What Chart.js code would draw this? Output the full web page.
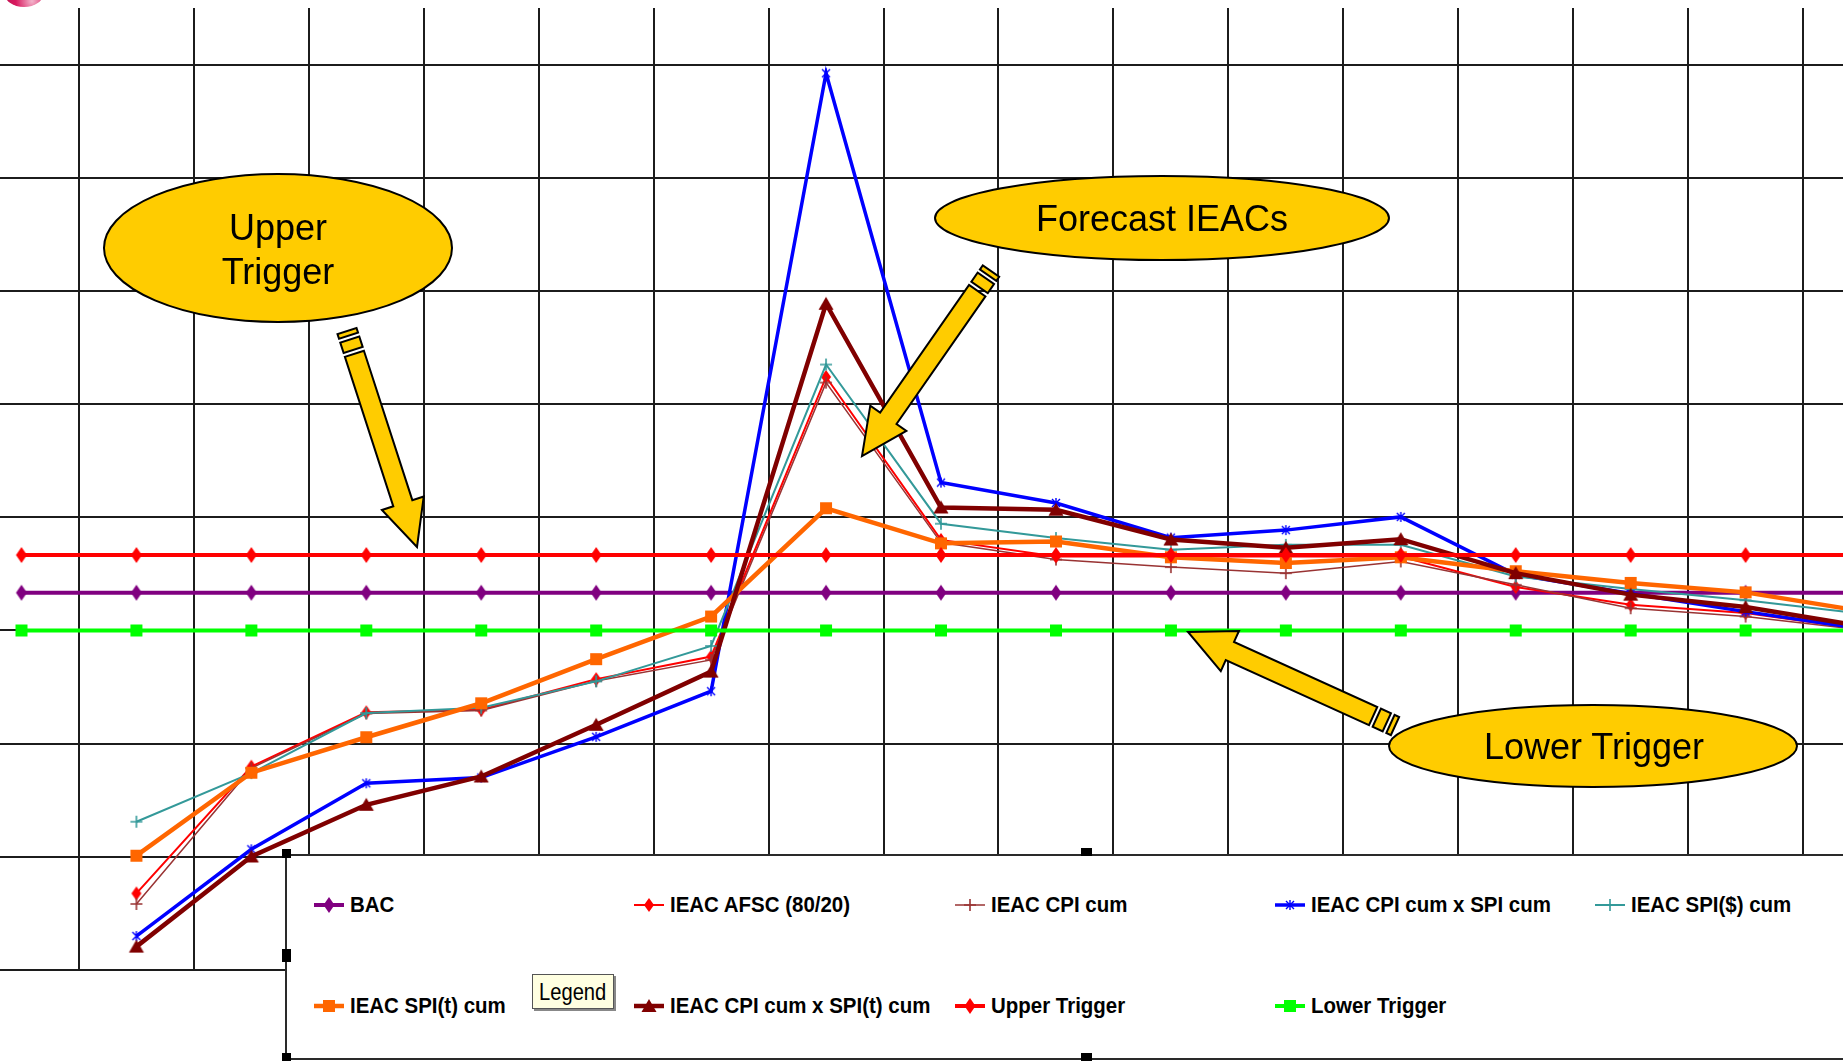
<!DOCTYPE html>
<html>
<head>
<meta charset="utf-8">
<title>IEAC Forecasts vs Triggers</title>
<script src="https://cdn.jsdelivr.net/npm/chart.js@4.4.0/dist/chart.umd.min.js"></script>
<style>
  html, body { margin: 0; padding: 0; width: 1843px; height: 1061px; overflow: hidden; background: #fff; }
  #plot { position: absolute; left: -36.3px; top: 8px; width: 1954px; height: 965px; z-index: 1; }
  #notes { position: absolute; left: 0; top: 0; z-index: 2; }
  .callout { position: absolute; z-index: 4; font-family: "Liberation Sans", Arial, sans-serif; font-size: 36px;
             line-height: 44px; color: #000; text-align: center; white-space: nowrap; transform: translate(-50%, -50%); }
  #legendBox { position: absolute; left: 285px; top: 854px; width: 1600px; height: 206px; box-sizing: border-box;
               background: #fff; border-left: 2px solid #2a2a2a; border-top: 2px solid #2a2a2a; border-bottom: 2px solid #2a2a2a; z-index: 3; }
  .item { position: absolute; height: 30px; display: flex; align-items: center; z-index: 4; }
  .item canvas { display: block; }
  .item span { margin-left: 4px; font-family: "Liberation Sans", Arial, sans-serif; font-weight: bold; font-size: 22px;
               color: #000; white-space: nowrap; transform: scaleX(0.93); transform-origin: left center; }
  #tip { position: absolute; left: 532px; top: 974px; width: 82px; height: 35px; box-sizing: border-box; background: #FFFFE1;
         border: 1px solid #555; box-shadow: 2px 2px 0 #888; z-index: 5; overflow: hidden; }
  #tip span { position: absolute; left: 6px; top: 3px; font-family: "Liberation Sans", Arial, sans-serif; font-size: 24px;
              color: #000; transform: scaleX(0.84); transform-origin: left top; white-space: nowrap; }
  .handle { position: absolute; background: #000; z-index: 6; }
  #logo { position: absolute; left: 4px; top: -22px; width: 40px; height: 29px; border-radius: 50%;
          background: radial-gradient(circle at 70% 80%, #f3b5cc 0%, #d8185e 45%, #b0104a 100%); z-index: 0; }
</style>
</head>
<body>
<div id="logo"></div>
<div id="plot"><canvas id="chart"></canvas></div>
<canvas id="notes" width="1843" height="1061"></canvas>
<div id="legendBox"></div>
<div id="tip"><span>Legend</span></div>

<script>
// Reporting periods (x categories)
const periods = ['1', '2', '3', '4', '5', '6', '7', '8', '9', '10', '11', '12', '13', '14', '15', '16', '17'];

// Budget at completion and the +/-10% trigger bands
const bac          = [100, 100, 100, 100, 100, 100, 100, 100, 100, 100, 100, 100, 100, 100, 100, 100, 100];
const upperTrigger = [110, 110, 110, 110, 110, 110, 110, 110, 110, 110, 110, 110, 110, 110, 110, 110, 110];
const lowerTrigger = [90, 90, 90, 90, 90, 90, 90, 90, 90, 90, 90, 90, 90, 90, 90, 90, 90];

// Independent estimates at completion
const ieacAfsc          = [null, 20.3, 53.9, 68.3, 69.0, 77.1, 83.1, 157.2, 114.0, 109.6, 109.6, 109.6, 109.6, 101.5, 96.8, 94.6, 90.4];
const ieacCpiCum        = [null, 17.5, 53.5, 68.0, 68.8, 76.6, 82.2, 155.7, 113.3, 108.8, 106.8, 105.2, 108.3, 102.1, 95.9, 93.7, 90.2];
const ieacCpiSpiCum     = [null, 9.0, 32.0, 49.5, 51.0, 61.8, 73.9, 237.7, 129.2, 123.8, 114.6, 116.6, 120.1, 104.8, 99.8, 95.0, 90.5];
const ieacSpiDollarCum  = [null, 39.3, 52.2, 68.1, 69.5, 76.5, 85.9, 160.5, 118.3, 114.5, 111.4, 112.7, 112.7, 104.3, 101.0, 98.0, 94.5];
const ieacSpiTimeCum    = [null, 30.3, 52.3, 61.7, 70.7, 82.4, 93.7, 122.4, 113.1, 113.6, 109.4, 107.9, 109.4, 105.7, 102.6, 100.1, 95.2];
const ieacCpiSpiTimeCum = [null, 6.2, 30.1, 43.8, 51.3, 65.0, 79.1, 176.6, 122.6, 122.0, 114.1, 111.9, 114.2, 105.2, 99.5, 96.2, 91.2];

const seriesNames = ['BAC', 'IEAC AFSC (80/20)', 'IEAC CPI cum', 'IEAC CPI cum x SPI cum', 'IEAC SPI($) cum',
                     'IEAC SPI(t) cum', 'IEAC CPI cum x SPI(t) cum', 'Upper Trigger', 'Lower Trigger'];

// Value axis range and grid spacing
const yMin = 0, yMax = 255, yStep = 30;

// Marker glyphs
function drawMarker(ctx, kind, x, y, color) {
  ctx.save();
  ctx.fillStyle = color;
  ctx.strokeStyle = color;
  ctx.beginPath();
  if (kind === 'diamond') {
    ctx.moveTo(x, y - 8); ctx.lineTo(x + 5.5, y); ctx.lineTo(x, y + 8); ctx.lineTo(x - 5.5, y); ctx.closePath(); ctx.fill();
  } else if (kind === 'smallDiamond') {
    ctx.moveTo(x, y - 7); ctx.lineTo(x + 5, y); ctx.lineTo(x, y + 7); ctx.lineTo(x - 5, y); ctx.closePath(); ctx.fill();
  } else if (kind === 'square') {
    ctx.fillRect(x - 6, y - 6, 12, 12);
  } else if (kind === 'triangle') {
    ctx.moveTo(x, y - 7); ctx.lineTo(x + 7.5, y + 6); ctx.lineTo(x - 7.5, y + 6); ctx.closePath(); ctx.fill();
  } else if (kind === 'plus') {
    ctx.lineWidth = 1.6;
    ctx.moveTo(x - 6, y); ctx.lineTo(x + 6, y); ctx.moveTo(x, y - 6); ctx.lineTo(x, y + 6); ctx.stroke();
  } else if (kind === 'star') {
    ctx.lineWidth = 1.4;
    ctx.moveTo(x - 4, y - 4); ctx.lineTo(x + 4, y + 4); ctx.moveTo(x + 4, y - 4); ctx.lineTo(x - 4, y + 4);
    ctx.moveTo(x, y - 5); ctx.lineTo(x, y + 5); ctx.stroke();
  }
  ctx.restore();
}
function markerImage(kind, color) {
  const c = document.createElement('canvas');
  c.width = 20; c.height = 20;
  drawMarker(c.getContext('2d'), kind, 10, 10, color);
  return c;
}

const seriesStyles = [
  { data: bac,               color: '#800080', width: 4,   marker: 'diamond' },
  { data: ieacAfsc,          color: '#FF0000', width: 2,   marker: 'smallDiamond' },
  { data: ieacCpiCum,        color: '#993333', width: 1.5, marker: 'plus' },
  { data: ieacCpiSpiCum,     color: '#0000FF', width: 3.5, marker: 'star' },
  { data: ieacSpiDollarCum,  color: '#339999', width: 2,   marker: 'plus' },
  { data: ieacSpiTimeCum,    color: '#FF6600', width: 4.5, marker: 'square' },
  { data: ieacCpiSpiTimeCum, color: '#800000', width: 4.5, marker: 'triangle' },
  { data: upperTrigger,      color: '#FF0000', width: 4,   marker: 'diamond' },
  { data: lowerTrigger,      color: '#00FF00', width: 4,   marker: 'square' }
];

const datasets = seriesStyles.map((s, i) => ({
  label: seriesNames[i],
  data: s.data,
  borderColor: s.color,
  backgroundColor: s.color,
  borderWidth: s.width,
  pointStyle: markerImage(s.marker, s.color),
  pointRadius: 6,
  pointHoverRadius: 6,
  tension: 0,
  fill: false,
  order: seriesStyles.length - i   // later series are painted on top
}));

const gridColor = '#1c1c1c';

new Chart(document.getElementById('chart'), {
  type: 'line',
  data: { labels: periods, datasets },
  options: {
    responsive: true,
    maintainAspectRatio: false,
    animation: false,
    devicePixelRatio: 1,
    events: [],
    // a little room below the plot so the base grid line is drawn at full width
    layout: { padding: { left: 0, right: 0, top: 0, bottom: 3 }, autoPadding: false },
    plugins: { legend: { display: false }, tooltip: { enabled: false }, title: { display: false } },
    scales: {
      x: {
        type: 'category',
        offset: true,
        ticks: { display: false },
        border: { display: false },
        grid: { offset: true, drawTicks: false, color: gridColor, lineWidth: 2 }
      },
      y: {
        min: yMin,
        max: yMax,
        ticks: { display: false, stepSize: yStep },
        border: { display: false },
        grid: {
          drawTicks: false,
          lineWidth: 2,
          color: (c) => (c.tick && c.tick.value % yStep === 0) ? gridColor : 'rgba(0,0,0,0)'
        }
      }
    }
  }
});

// Callout balloons and striped arrows
const nctx = document.getElementById('notes').getContext('2d');

function balloon(cx, cy, rx, ry) {
  nctx.save();
  nctx.beginPath();
  nctx.ellipse(cx, cy, rx, ry, 0, 0, Math.PI * 2);
  nctx.fillStyle = '#FFCC00';
  nctx.fill();
  nctx.lineWidth = 2;
  nctx.strokeStyle = '#000';
  nctx.stroke();
  nctx.restore();
}

function stripedArrow(tx, ty, px, py) {
  const dx = px - tx, dy = py - ty, L = Math.hypot(dx, dy);
  const sw = 10, hw = 22, hl = 46;
  nctx.save();
  nctx.translate(tx, ty);
  nctx.rotate(Math.atan2(dy, dx));
  nctx.fillStyle = '#FFCC00';
  nctx.strokeStyle = '#000';
  nctx.lineWidth = 2;
  nctx.lineJoin = 'miter';
  [[0, 5], [9, 20]].forEach(([a, b]) => {
    nctx.beginPath();
    nctx.rect(a, -sw, b - a, 2 * sw);
    nctx.fill();
    nctx.stroke();
  });
  nctx.beginPath();
  nctx.moveTo(24, -sw);
  nctx.lineTo(L - hl, -sw);
  nctx.lineTo(L - hl, -hw);
  nctx.lineTo(L, 0);
  nctx.lineTo(L - hl, hw);
  nctx.lineTo(L - hl, sw);
  nctx.lineTo(24, sw);
  nctx.closePath();
  nctx.fill();
  nctx.stroke();
  nctx.restore();
}

balloon(278, 248, 174, 74);
balloon(1162, 218, 227, 42);
balloon(1593, 746, 204, 41);
stripedArrow(347, 331, 417, 547);
stripedArrow(991, 271, 862, 456);
stripedArrow(1395, 726, 1188, 632);

function addText(html, x, y) {
  const d = document.createElement('div');
  d.className = 'callout';
  d.style.left = x + 'px';
  d.style.top = y + 'px';
  d.innerHTML = html;
  document.body.appendChild(d);
}
addText('Upper<br>Trigger', 278, 250);
addText('Forecast IEACs', 1162, 219);
addText('Lower Trigger', 1594, 747);

// Legend entries: two rows, five columns
const legendCols = [350, 670, 991, 1311, 1631];
const legendRows = [905, 1006];
seriesStyles.forEach((s, i) => {
  const col = i % 5, row = Math.floor(i / 5);
  const item = document.createElement('div');
  item.className = 'item';
  item.style.left = (legendCols[col] - 38) + 'px';
  item.style.top = (legendRows[row] - 15) + 'px';
  const c = document.createElement('canvas');
  c.width = 34; c.height = 30;
  const g = c.getContext('2d');
  g.strokeStyle = s.color;
  g.lineWidth = s.width;
  g.beginPath();
  g.moveTo(2, 15);
  g.lineTo(32, 15);
  g.stroke();
  drawMarker(g, s.marker, 17, 15, s.color);
  const t = document.createElement('span');
  t.textContent = seriesNames[i];
  item.appendChild(c);
  item.appendChild(t);
  document.body.appendChild(item);
});

// Selection handles on the legend frame
[[282, 849, 9, 9], [282, 949, 9, 13], [282, 1053, 9, 9], [1081, 848, 11, 8], [1081, 1053, 11, 8]].forEach(([x, y, w, h]) => {
  const d = document.createElement('div');
  d.className = 'handle';
  d.style.left = x + 'px';
  d.style.top = y + 'px';
  d.style.width = w + 'px';
  d.style.height = h + 'px';
  document.body.appendChild(d);
});
</script>
</body>
</html>
